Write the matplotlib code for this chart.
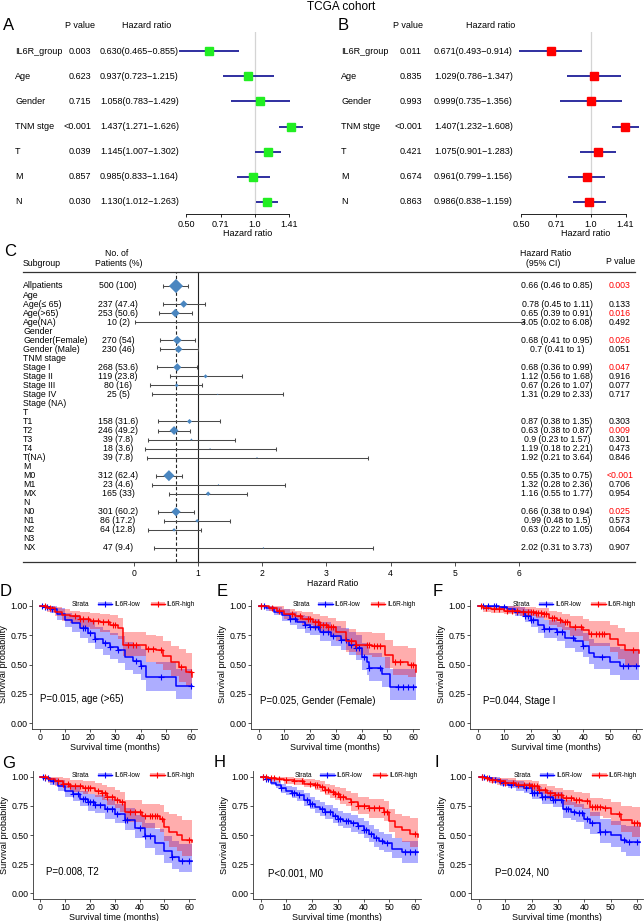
import numpy as np
import matplotlib.pyplot as plt
import matplotlib.transforms as mtransforms
from matplotlib.patches import Patch
from matplotlib.lines import Line2D

plt.rcParams['font.family'] = ['Liberation Sans', 'DejaVu Sans']

# ---------------- data: A / B  (multivariate cox) ----------------
cox_vars = ['IL6R_group', 'Age', 'Gender', 'TNM stge', 'T', 'M', 'N']
a_p = ['0.003', '0.623', '0.715', '<0.001', '0.039', '0.857', '0.030']
a_hr = [0.630, 0.937, 1.058, 1.437, 1.145, 0.985, 1.130]
a_lo = [0.465, 0.723, 0.783, 1.271, 1.007, 0.833, 1.012]
a_hi = [0.855, 1.215, 1.429, 1.626, 1.302, 1.164, 1.263]
b_p = ['0.011', '0.835', '0.993', '<0.001', '0.421', '0.674', '0.863']
b_hr = [0.671, 1.029, 0.999, 1.407, 1.075, 0.961, 0.986]
b_lo = [0.493, 0.786, 0.735, 1.232, 0.901, 0.799, 0.838]
b_hi = [0.914, 1.347, 1.356, 1.608, 1.283, 1.156, 1.159]
cox_ticks = [0.50, 0.71, 1.0, 1.41]
cox_ticklabels = ['0.50', '0.71', '1.0', '1.41']

# ---------------- data: C  (subgroup forest) ----------------
nan = np.nan
sub_names = ['Allpatients', 'Age', 'Age(\u2264 65)', 'Age(>65)', 'Age(NA)', 'Gender',
             'Gender(Female)', 'Gender (Male)', 'TNM stage', 'Stage I', 'Stage II',
             'Stage III', 'Stage IV', 'Stage (NA)', 'T', 'T1', 'T2', 'T3', 'T4', 'T(NA)',
             'M', 'M0', 'M1', 'MX', 'N', 'N0', 'N1', 'N2', 'N3', 'NX']
sub_n = ['500 (100)', '', '237 (47.4)', '253 (50.6)', '10 (2)', '', '270 (54)', '230 (46)',
         '', '268 (53.6)', '119 (23.8)', '80 (16)', '25 (5)', '', '', '158 (31.6)',
         '246 (49.2)', '39 (7.8)', '18 (3.6)', '39 (7.8)', '', '312 (62.4)', '23 (4.6)',
         '165 (33)', '', '301 (60.2)', '86 (17.2)', '64 (12.8)', '', '47 (9.4)']
sub_hr = [0.66, nan, 0.78, 0.65, 3.05, nan, 0.68, 0.7, nan, 0.68, 1.12, 0.67, 1.31, nan, nan,
          0.87, 0.63, 0.9, 1.19, 1.92, nan, 0.55, 1.32, 1.16, nan, 0.66, 0.99, 0.63, nan, 2.02]
sub_lo = [0.46, nan, 0.45, 0.39, 0.02, nan, 0.41, 0.41, nan, 0.36, 0.56, 0.26, 0.29, nan, nan,
          0.38, 0.38, 0.23, 0.18, 0.21, nan, 0.35, 0.28, 0.55, nan, 0.38, 0.48, 0.22, nan, 0.31]
sub_hi = [0.85, nan, 1.11, 0.91, 6.08, nan, 0.95, 1.0, nan, 0.99, 1.68, 1.07, 2.33, nan, nan,
          1.35, 0.87, 1.57, 2.21, 3.64, nan, 0.75, 2.36, 1.77, nan, 0.94, 1.5, 1.05, nan, 3.73]
sub_p = ['0.003', '', '0.133', '0.016', '0.492', '', '0.026', '0.051', '', '0.047', '0.916',
         '0.077', '0.717', '', '', '0.303', '0.009', '0.301', '0.473', '0.846', '', '<0.001',
         '0.706', '0.954', '', '0.025', '0.573', '0.064', '', '0.907']
overall_hr = 0.66

# ---------------- data: D-I  (Kaplan-Meier) ----------------
D_low_t = [0, 2, 4, 7, 10, 13, 16, 19, 22, 25, 28, 31, 34, 37, 40, 42, 54, 60.5]
D_low_s = [1.0, 0.99, 0.97, 0.93, 0.88, 0.85, 0.81, 0.77, 0.72, 0.68, 0.65, 0.62, 0.56, 0.53, 0.49, 0.39, 0.32, 0.32]
D_low_lo = [1.0, 0.97, 0.94, 0.88, 0.82, 0.78, 0.73, 0.68, 0.63, 0.58, 0.55, 0.51, 0.45, 0.42, 0.37, 0.27, 0.21, 0.21]
D_low_hi = [1.0, 1.0, 1.0, 0.98, 0.94, 0.92, 0.89, 0.86, 0.82, 0.79, 0.77, 0.74, 0.69, 0.66, 0.63, 0.52, 0.46, 0.46]
D_low_c = [1, 2, 3, 5, 17, 18, 20, 22, 26, 28, 31, 38, 40, 48, 60]
D_high_t = [0, 3, 6, 9, 12, 16, 20, 24, 28, 31, 33, 42, 46, 49, 52, 55, 58, 60.5]
D_high_s = [1.0, 0.98, 0.95, 0.92, 0.91, 0.89, 0.87, 0.86, 0.84, 0.81, 0.67, 0.63, 0.62, 0.57, 0.52, 0.48, 0.44, 0.39]
D_high_lo = [1.0, 0.95, 0.91, 0.87, 0.85, 0.82, 0.80, 0.78, 0.75, 0.72, 0.57, 0.52, 0.50, 0.45, 0.40, 0.35, 0.32, 0.27]
D_high_hi = [1.0, 1.0, 0.99, 0.97, 0.96, 0.95, 0.94, 0.93, 0.92, 0.90, 0.78, 0.75, 0.74, 0.70, 0.66, 0.63, 0.60, 0.56]
D_high_c = [2, 4, 14, 16, 17, 19, 21, 23, 25, 27, 29, 30, 35, 37, 38, 43, 45, 48, 56, 60]

E_low_t = [0, 3, 6, 9, 12, 15, 18, 20, 24, 28, 32, 35, 38, 40, 42, 43, 48, 51, 61]
E_low_s = [1.0, 0.98, 0.95, 0.92, 0.89, 0.86, 0.84, 0.82, 0.78, 0.74, 0.71, 0.67, 0.64, 0.56, 0.52, 0.47, 0.42, 0.31, 0.31]
E_low_lo = [1.0, 0.96, 0.92, 0.87, 0.84, 0.80, 0.77, 0.75, 0.70, 0.66, 0.62, 0.58, 0.54, 0.45, 0.41, 0.36, 0.31, 0.20, 0.20]
E_low_hi = [1.0, 1.0, 0.99, 0.97, 0.95, 0.92, 0.91, 0.89, 0.86, 0.83, 0.81, 0.78, 0.75, 0.68, 0.65, 0.60, 0.56, 0.46, 0.46]
E_low_c = [1, 2, 12, 14, 18, 20, 22, 23, 25, 27, 29, 32, 34, 36, 38, 39, 41, 43, 47, 54, 56, 58, 60]
E_high_t = [0, 4, 7, 10, 14, 17, 21, 24, 27, 30, 34, 38, 44, 49, 52, 58, 61]
E_high_s = [1.0, 0.98, 0.96, 0.93, 0.91, 0.89, 0.86, 0.84, 0.82, 0.78, 0.70, 0.67, 0.66, 0.58, 0.52, 0.50, 0.44]
E_high_lo = [1.0, 0.96, 0.93, 0.89, 0.86, 0.84, 0.80, 0.78, 0.75, 0.70, 0.61, 0.58, 0.56, 0.47, 0.41, 0.39, 0.34]
E_high_hi = [1.0, 1.0, 1.0, 0.97, 0.96, 0.95, 0.93, 0.91, 0.90, 0.87, 0.80, 0.78, 0.77, 0.71, 0.66, 0.64, 0.60]
E_high_c = [1, 5, 8, 13, 16, 19, 20, 22, 23, 24, 25, 26, 27, 28, 29, 36, 38, 42, 43, 45, 46, 47, 53, 55, 59, 60]

F_low_t = [0, 8, 11, 14, 18, 20, 23, 25, 30, 33, 37, 40, 42, 44, 50, 54, 61]
F_low_s = [1.0, 0.99, 0.97, 0.95, 0.91, 0.88, 0.84, 0.80, 0.78, 0.73, 0.70, 0.66, 0.60, 0.56, 0.52, 0.49, 0.49]
F_low_lo = [1.0, 0.97, 0.94, 0.91, 0.86, 0.82, 0.77, 0.73, 0.70, 0.64, 0.61, 0.56, 0.50, 0.46, 0.41, 0.37, 0.37]
F_low_hi = [1.0, 1.0, 1.0, 0.99, 0.97, 0.94, 0.91, 0.88, 0.86, 0.82, 0.80, 0.77, 0.72, 0.68, 0.65, 0.63, 0.63]
F_low_c = [2, 4, 6, 7, 10, 15, 17, 18, 19, 20, 21, 25, 27, 30, 32, 36, 40, 47, 55, 57, 60]
F_high_t = [0, 2, 5, 10, 16, 22, 25, 27, 30, 32, 35, 40, 42, 50, 53, 56, 61]
F_high_s = [1.0, 0.98, 0.97, 0.96, 0.95, 0.94, 0.93, 0.90, 0.88, 0.86, 0.82, 0.79, 0.76, 0.72, 0.67, 0.62, 0.60]
F_high_lo = [1.0, 0.95, 0.94, 0.93, 0.91, 0.90, 0.88, 0.84, 0.82, 0.79, 0.74, 0.70, 0.66, 0.61, 0.55, 0.48, 0.42]
F_high_hi = [1.0, 1.0, 1.0, 1.0, 0.99, 0.98, 0.98, 0.96, 0.95, 0.93, 0.91, 0.89, 0.87, 0.84, 0.81, 0.78, 0.77]
F_high_c = [1, 3, 6, 8, 11, 13, 15, 17, 19, 20, 21, 22, 23, 24, 25, 26, 28, 29, 31, 33, 34, 37, 39, 43, 45, 46, 47, 48, 59]

G_low_t = [0, 2, 4, 7, 10, 13, 16, 19, 22, 26, 30, 34, 38, 42, 46, 50, 53, 56, 61]
G_low_s = [1.0, 0.99, 0.96, 0.92, 0.88, 0.85, 0.81, 0.78, 0.76, 0.72, 0.68, 0.63, 0.56, 0.49, 0.43, 0.36, 0.31, 0.28, 0.28]
G_low_lo = [1.0, 0.97, 0.93, 0.88, 0.83, 0.79, 0.75, 0.71, 0.69, 0.64, 0.60, 0.54, 0.47, 0.39, 0.33, 0.26, 0.21, 0.18, 0.18]
G_low_hi = [1.0, 1.0, 0.99, 0.97, 0.93, 0.91, 0.88, 0.85, 0.84, 0.81, 0.77, 0.73, 0.67, 0.60, 0.55, 0.49, 0.45, 0.42, 0.42]
G_low_c = [1, 2, 3, 5, 13, 15, 17, 18, 19, 20, 21, 22, 24, 27, 29, 31, 34, 35, 40, 42, 44, 53, 57, 60]
G_high_t = [0, 3, 6, 9, 12, 17, 22, 25, 27, 30, 32, 34, 41, 48, 50, 52, 55, 57, 61]
G_high_s = [1.0, 0.98, 0.96, 0.94, 0.92, 0.90, 0.88, 0.86, 0.83, 0.80, 0.78, 0.70, 0.66, 0.64, 0.57, 0.53, 0.50, 0.46, 0.44]
G_high_lo = [1.0, 0.95, 0.92, 0.90, 0.87, 0.85, 0.83, 0.80, 0.76, 0.73, 0.70, 0.61, 0.56, 0.53, 0.45, 0.40, 0.36, 0.32, 0.30]
G_high_hi = [1.0, 1.0, 1.0, 0.99, 0.97, 0.96, 0.95, 0.93, 0.91, 0.89, 0.87, 0.80, 0.77, 0.76, 0.70, 0.68, 0.66, 0.63, 0.61]
G_high_c = [2, 7, 9, 11, 12, 14, 16, 18, 19, 20, 23, 25, 26, 27, 29, 31, 33, 36, 38, 40, 42, 44, 45, 46, 47, 49, 60]

H_low_t = [0, 2, 4, 6, 8, 10, 12, 14, 17, 19, 21, 23, 25, 28, 30, 32, 35, 38, 40, 42, 44, 46, 48, 51, 55, 61]
H_low_s = [1.0, 0.98, 0.95, 0.93, 0.90, 0.88, 0.86, 0.84, 0.80, 0.77, 0.74, 0.72, 0.70, 0.66, 0.64, 0.62, 0.60, 0.58, 0.54, 0.51, 0.47, 0.45, 0.43, 0.38, 0.35, 0.35]
H_low_lo = [1.0, 0.96, 0.93, 0.90, 0.86, 0.84, 0.82, 0.79, 0.75, 0.72, 0.69, 0.66, 0.64, 0.60, 0.58, 0.56, 0.53, 0.51, 0.47, 0.44, 0.40, 0.37, 0.35, 0.30, 0.26, 0.26]
H_low_hi = [1.0, 1.0, 0.98, 0.96, 0.94, 0.92, 0.91, 0.89, 0.86, 0.83, 0.80, 0.78, 0.76, 0.73, 0.71, 0.69, 0.67, 0.65, 0.62, 0.59, 0.55, 0.53, 0.51, 0.47, 0.45, 0.45]
H_low_c = [1, 2, 3, 8, 12, 13, 15, 18, 19, 20, 24, 25, 27, 29, 30, 31, 33, 34, 36, 38, 40, 41, 43, 45, 47, 49, 56, 58, 60]
H_high_t = [0, 3, 6, 9, 13, 17, 21, 23, 25, 27, 29, 31, 33, 35, 38, 42, 48, 50, 52, 55, 58, 61]
H_high_s = [1.0, 0.99, 0.98, 0.97, 0.96, 0.94, 0.93, 0.91, 0.89, 0.87, 0.85, 0.83, 0.81, 0.78, 0.75, 0.73, 0.70, 0.62, 0.57, 0.54, 0.51, 0.48]
H_high_lo = [1.0, 0.97, 0.96, 0.94, 0.93, 0.91, 0.89, 0.87, 0.84, 0.82, 0.80, 0.77, 0.75, 0.71, 0.68, 0.65, 0.62, 0.53, 0.47, 0.44, 0.40, 0.37]
H_high_hi = [1.0, 1.0, 1.0, 1.0, 0.99, 0.98, 0.97, 0.96, 0.94, 0.93, 0.91, 0.90, 0.88, 0.86, 0.83, 0.81, 0.79, 0.72, 0.68, 0.66, 0.65, 0.64]
H_high_c = [1, 2, 4, 5, 7, 10, 13, 16, 19, 21, 22, 24, 25, 26, 28, 29, 30, 31, 32, 35, 38, 40, 42, 44, 46, 48, 49, 60]

I_low_t = [0, 3, 5, 8, 11, 14, 17, 20, 24, 28, 32, 35, 37, 40, 42, 46, 50, 54, 56, 61]
I_low_s = [1.0, 0.99, 0.97, 0.95, 0.93, 0.92, 0.90, 0.86, 0.83, 0.80, 0.72, 0.70, 0.69, 0.64, 0.60, 0.53, 0.50, 0.46, 0.44, 0.44]
I_low_lo = [1.0, 0.97, 0.95, 0.92, 0.90, 0.88, 0.86, 0.81, 0.77, 0.74, 0.65, 0.63, 0.61, 0.55, 0.51, 0.43, 0.40, 0.35, 0.32, 0.32]
I_low_hi = [1.0, 1.0, 1.0, 0.98, 0.97, 0.96, 0.95, 0.91, 0.89, 0.87, 0.80, 0.78, 0.77, 0.73, 0.70, 0.64, 0.62, 0.59, 0.58, 0.58]
I_low_c = [1, 2, 4, 6, 9, 12, 18, 20, 21, 22, 24, 25, 27, 28, 29, 31, 33, 34, 36, 38, 39, 41, 43, 46, 48, 55, 57, 60]
I_high_t = [0, 2, 4, 7, 10, 14, 20, 23, 26, 29, 32, 36, 39, 42, 47, 50, 54, 58, 61]
I_high_s = [1.0, 0.99, 0.97, 0.96, 0.95, 0.93, 0.92, 0.89, 0.86, 0.84, 0.82, 0.80, 0.79, 0.74, 0.73, 0.68, 0.63, 0.60, 0.58]
I_high_lo = [1.0, 0.97, 0.95, 0.93, 0.92, 0.90, 0.88, 0.85, 0.81, 0.79, 0.76, 0.74, 0.72, 0.66, 0.65, 0.59, 0.53, 0.48, 0.43]
I_high_hi = [1.0, 1.0, 1.0, 0.99, 0.99, 0.97, 0.96, 0.94, 0.92, 0.90, 0.89, 0.87, 0.86, 0.82, 0.81, 0.78, 0.75, 0.74, 0.74]
I_high_c = [1, 3, 5, 8, 10, 13, 15, 17, 19, 20, 21, 22, 23, 25, 27, 29, 30, 31, 33, 35, 37, 38, 41, 43, 44, 45, 46, 48, 53, 59, 60]

km_labels = ['IL6R-low', 'IL6R-high']

# ---------------- figure ----------------
W, H = 644, 921
fig = plt.figure(figsize=(W / 100, H / 100), dpi=100)


def box(x0, y0, x1, y1):
    # pixel box (top-left origin) -> figure fraction rect
    return [x0 / W, 1 - y1 / H, (x1 - x0) / W, (y1 - y0) / H]


def ftext(x, y, s, **kw):
    kw.setdefault('va', 'center')
    fig.text(x / W, 1 - y / H, s, **kw)


ftext(341, 7, 'TCGA cohort', ha='center', fontsize=8.5)

FS_AB = 6.5


def cox_panel(rect, xlim, cols, pvals, hr, lo, hi, color):
    ax = fig.add_axes(box(*rect))
    rows = np.arange(len(cox_vars))
    ax.axvline(1.0, color='#d4d4d4', lw=0.9, zorder=0)
    ax.hlines(rows, lo, hi, color='#1f1f99', lw=1.3, zorder=2)
    ax.plot(hr, rows, 's', color=color, ms=6.2, zorder=3)
    ax.set_xscale('log', base=2)
    ax.set_xlim(*xlim)
    ax.set_ylim(6.48, -0.76)
    ax.minorticks_off()
    ax.set_xticks(cox_ticks)
    ax.set_xticklabels(cox_ticklabels)
    ax.set_yticks([])
    for s in ['top', 'left', 'right']:
        ax.spines[s].set_visible(False)
    ax.spines['bottom'].set_bounds(cox_ticks[0], cox_ticks[-1])
    ax.spines['bottom'].set_linewidth(0.6)
    ax.tick_params(axis='x', length=2.5, width=0.6, labelsize=FS_AB, pad=1.5)
    ax.patch.set_alpha(0)
    tr = mtransforms.blended_transform_factory(fig.transFigure, ax.transData)
    name_x, p_x, hr_x = cols
    for i in rows:
        ax.text(name_x / W, i, cox_vars[i], transform=tr, ha='left', va='center', fontsize=FS_AB)
        ax.text(p_x / W, i, pvals[i], transform=tr, ha='right', va='center', fontsize=FS_AB)
        ax.text(hr_x / W, i, f'{hr[i]:.3f}({lo[i]:.3f}\u2212{hi[i]:.3f})', transform=tr,
                ha='left', va='center', fontsize=FS_AB)
    return ax


cox_panel((176, 32, 312, 214), (0.452, 1.78), (15, 91, 100), a_p, a_hr, a_lo, a_hi, '#22ee22')
ftext(80, 26, 'P value', ha='center', fontsize=FS_AB)
ftext(147, 25, 'Hazard ratio', ha='center', fontsize=FS_AB)
ftext(248, 233, 'Hazard ratio', ha='center', fontsize=FS_AB)
ftext(3, 26, 'A', fontsize=12)

cox_panel((514, 32, 642, 214), (0.467, 1.66), (341, 422, 434), b_p, b_hr, b_lo, b_hi, '#ff0000')
ftext(408, 26, 'P value', ha='center', fontsize=FS_AB)
ftext(491, 25, 'Hazard ratio', ha='center', fontsize=FS_AB)
ftext(586, 233, 'Hazard ratio', ha='center', fontsize=FS_AB)
ftext(338, 26, 'B', fontsize=12)

# ---------------- C ----------------
axc = fig.add_axes(box(23, 272, 635, 562))
rows_c = np.arange(len(sub_names))
hr_c = np.array(sub_hr)
lo_c = np.array(sub_lo)
hi_c = np.array(sub_hi)
ok = ~np.isnan(hr_c)
axc.axvline(1, color='#222222', lw=0.8, zorder=1)
axc.axvline(overall_hr, color='#222222', lw=0.8, ls=(0, (3, 2)), zorder=1)
axc.errorbar(hr_c[ok], rows_c[ok], xerr=[hr_c[ok] - lo_c[ok], hi_c[ok] - hr_c[ok]],
             fmt='none', ecolor='#4a4a4a', elinewidth=0.75, capsize=1.6, capthick=0.75, zorder=2)
n_pat = np.array([float(s.split()[0]) if s else nan for s in sub_n])
weight = n_pat[ok] / (hi_c[ok] - lo_c[ok])
axc.scatter(hr_c[ok], rows_c[ok], marker='D', s=52 * weight / weight.max(),
            color='#4a86c0', lw=0, zorder=3)
axc.set_xlim(-1.72, 7.80)
axc.set_ylim(30.56, -1.55)
axc.set_xticks(range(7))
axc.set_yticks([])
for s in ['left', 'right']:
    axc.spines[s].set_visible(False)
for s in ['top', 'bottom']:
    axc.spines[s].set_color('#333333')
    axc.spines[s].set_linewidth(0.9)
axc.tick_params(axis='x', length=3, width=0.6, labelsize=6.2, pad=2, color='#333333')
axc.patch.set_alpha(0)
trc = mtransforms.blended_transform_factory(fig.transFigure, axc.transData)
FS_C = 6.3
for i in rows_c:
    axc.text(23 / W, i, sub_names[i], transform=trc, ha='left', va='center', fontsize=FS_C)
    if sub_n[i]:
        axc.text(118 / W, i, sub_n[i], transform=trc, ha='center', va='center', fontsize=FS_C)
    if ok[i]:
        axc.text(557 / W, i, f'{hr_c[i]:g} ({lo_c[i]:g} to {hi_c[i]:g})', transform=trc,
                 ha='center', va='center', fontsize=FS_C)
    if sub_p[i]:
        sig = sub_p[i].startswith('<') or float(sub_p[i]) < 0.05
        axc.text(620 / W, i, sub_p[i], transform=trc, ha='center', va='center', fontsize=FS_C,
                 color='#ff0000' if sig else 'black')
ftext(23, 263, 'Subgroup', ha='left', fontsize=FS_C)
ftext(117, 253, 'No. of', ha='center', fontsize=FS_C)
ftext(119, 263, 'Patients (%)', ha='center', fontsize=FS_C)
ftext(546, 253, 'Hazard Ratio', ha='center', fontsize=FS_C)
ftext(543, 263, '(95% CI)', ha='center', fontsize=FS_C)
ftext(621, 261, 'P value', ha='center', fontsize=FS_C)
ftext(333, 583, 'Hazard Ratio', ha='center', fontsize=FS_C)
ftext(4, 252, 'C', fontsize=12)


# ---------------- D-I ----------------
def km_panel(rect, low, high, ptext, pxy, letter, lxy):
    ax = fig.add_axes(box(*rect))
    groups = [(low, '#0000ff'), (high, '#ff0000')]
    for (t, s, lo, hi, c), col in groups:
        ax.fill_between(t, lo, hi, step='post', color=col, alpha=0.32, lw=0)
    for (t, s, lo, hi, c), col in groups:
        ax.step(t, s, where='post', color=col, lw=1.1)
        idx = np.searchsorted(t, c, side='right') - 1
        ax.plot(c, np.asarray(s)[idx], '+', color=col, ms=4, mew=0.8)
    ax.set_xlim(-3, 62.3)
    ax.set_ylim(-0.05, 1.05)
    ax.set_xticks(range(0, 61, 10))
    ax.set_yticks([0, 0.25, 0.5, 0.75, 1.0])
    ax.set_yticklabels(['0.00', '0.25', '0.50', '0.75', '1.00'])
    for s in ['top', 'right']:
        ax.spines[s].set_visible(False)
    for s in ['left', 'bottom']:
        ax.spines[s].set_linewidth(0.6)
        ax.spines[s].set_color('#333333')
    ax.tick_params(length=2, width=0.6, labelsize=6.3, pad=1, color='#333333')
    ax.set_xlabel('Survival time (months)', fontsize=6.5, labelpad=0.5)
    ax.set_ylabel('Survival probability', fontsize=6.6, labelpad=2)
    ax.text(pxy[0], pxy[1], ptext, fontsize=7, ha='left', va='center')
    handles = [(Patch(facecolor=col, alpha=0.32, lw=0),
                Line2D([], [], color=col, lw=1.0, marker='+', ms=4, mew=0.8))
               for _, col in groups]
    ax.legend(handles, km_labels, ncol=2, loc='center left', bbox_to_anchor=(0.40, 0.964),
              frameon=False, fontsize=4.7, handlelength=2.2, handletextpad=0.3,
              columnspacing=1.6, borderpad=0, borderaxespad=0)
    ax.text(0.35, 0.964, 'Strata', transform=ax.transAxes, ha='right', va='center', fontsize=4.7)
    ftext(lxy[0], lxy[1], letter, fontsize=12)
    return ax


km_panel((32, 600, 197, 729),
         (D_low_t, D_low_s, D_low_lo, D_low_hi, D_low_c),
         (D_high_t, D_high_s, D_high_lo, D_high_hi, D_high_c),
         'P=0.015, age (>65)', (0.3, 0.21), 'D', (0, 591))
km_panel((251, 600, 419, 729),
         (E_low_t, E_low_s, E_low_lo, E_low_hi, E_low_c),
         (E_high_t, E_high_s, E_high_lo, E_high_hi, E_high_c),
         'P=0.025, Gender (Female)', (0.6, 0.19), 'E', (217, 591))
km_panel((470, 600, 642, 729),
         (F_low_t, F_low_s, F_low_lo, F_low_hi, F_low_c),
         (F_high_t, F_high_s, F_high_lo, F_high_hi, F_high_c),
         'P=0.044, Stage I', (2.1, 0.185), 'F', (433, 591))
km_panel((33, 771, 195, 899),
         (G_low_t, G_low_s, G_low_lo, G_low_hi, G_low_c),
         (G_high_t, G_high_s, G_high_lo, G_high_hi, G_high_c),
         'P=0.008, T2', (2.3, 0.19), 'G', (2, 763))
km_panel((253, 771, 421, 899),
         (H_low_t, H_low_s, H_low_lo, H_low_hi, H_low_c),
         (H_high_t, H_high_s, H_high_lo, H_high_hi, H_high_c),
         'P<0.001, M0', (2.8, 0.17), 'H', (214, 762))
km_panel((471, 771, 643, 899),
         (I_low_t, I_low_s, I_low_lo, I_low_hi, I_low_c),
         (I_high_t, I_high_s, I_high_lo, I_high_hi, I_high_c),
         'P=0.024, N0', (6, 0.18), 'I', (435, 762))

fig.savefig('out.png', dpi=100)
